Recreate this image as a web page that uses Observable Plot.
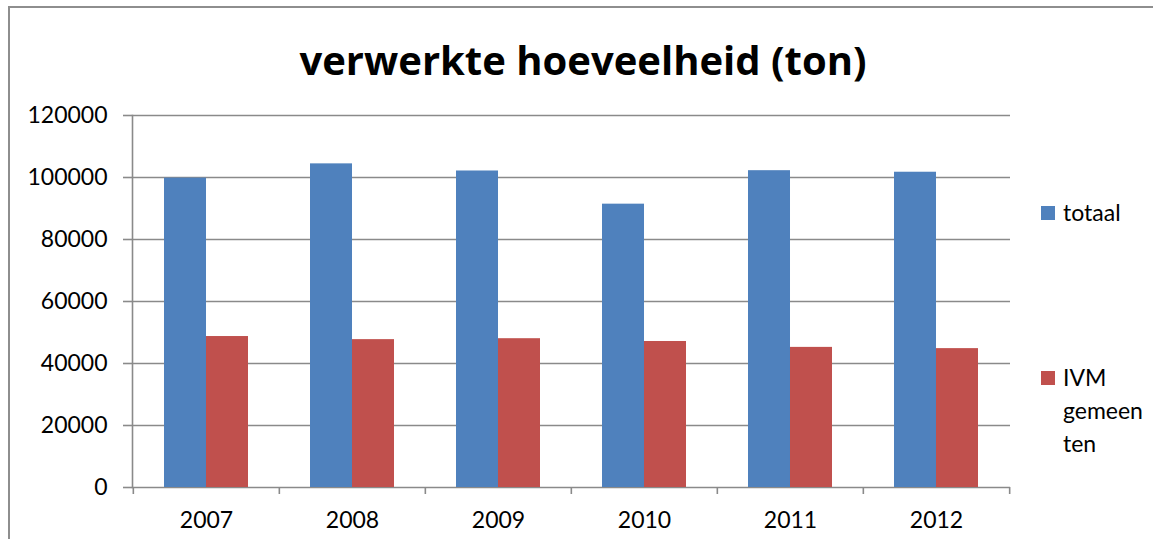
<!DOCTYPE html>
<html>
<head>
<meta charset="utf-8">
<script src="https://cdn.jsdelivr.net/npm/d3@7"></script>
<script src="https://cdn.jsdelivr.net/npm/@observablehq/plot@0.6"></script>
<style>
  html, body { margin: 0; padding: 0; background: #fff; }
  #wrap { position: relative; width: 1153px; height: 539px; overflow: hidden; font-family: Lato, "Open Sans", sans-serif; }
  #border { position: absolute; left: 8px; top: 6px; width: 1200px; height: 600px; border-left: 2px solid #8e8e8e; border-top: 2px solid #8e8e8e; box-sizing: border-box; }
  #title { position: absolute; left: 0; width: 1166px; top: 34px; text-align: center; font-family: "Open Sans", Lato, sans-serif; font-weight: bold; font-size: 40px; line-height: 52px; color: #000; }
  #chart { position: absolute; left: 0; top: 0; }
  .leg { position: absolute; font-size: 23px; line-height: 33px; color: #000; }
  .sw { position: absolute; width: 14px; height: 14px; }
</style>
</head>
<body>
<div id="wrap">
  <div id="border"></div>
  <div id="chart"></div>
  <div id="title">verwerkte hoeveelheid (ton)</div>
  <div id="legend"></div>
</div>
<script>
const years = ["2007", "2008", "2009", "2010", "2011", "2012"];
const totaal = [99800, 104400, 102100, 91400, 102200, 101700];
const ivm = [48700, 47700, 48000, 47100, 45200, 44800];
const yTicks = [0, 20000, 40000, 60000, 80000, 100000, 120000];
const seriesNames = ["totaal", "IVM gemeen ten"];
const seriesColors = ["#4F81BD", "#C0504D"];

const dataTot = years.map((y, i) => ({year: y, value: totaal[i]}));
const dataIvm = years.map((y, i) => ({year: y, value: ivm[i]}));

const W = 1153, H = 539;
const mL = 132, mR = 143, mT = 115, mB = 52;
const step = (W - mL - mR) / years.length;
const pad = 0.426;
const bw = step * (1 - pad);
const gridColor = "#8a8a8a";

const chart = Plot.plot({
  width: W, height: H,
  marginLeft: mL, marginRight: mR, marginTop: mT, marginBottom: mB,
  style: {fontFamily: "Lato, 'Open Sans', sans-serif", fontSize: "23px", color: "#000", background: "transparent", overflow: "visible"},
  x: {domain: years, paddingInner: pad, paddingOuter: pad / 2, label: null},
  y: {domain: [0, 120000], label: null},
  marks: [
    Plot.ruleY(yTicks, {stroke: gridColor, strokeWidth: 1.6}),
    Plot.frame({anchor: "left", stroke: gridColor, strokeWidth: 1.6}),
    Plot.barY(dataTot, {x: "year", y: "value", fill: seriesColors[0], insetRight: bw / 2}),
    Plot.barY(dataIvm, {x: "year", y: "value", fill: seriesColors[1], insetLeft: bw / 2}),
    Plot.axisY({ticks: yTicks, tickSize: 9, tickPadding: 16, tickFormat: d => String(d), stroke: gridColor, strokeWidth: 1.6, fill: "#000", label: null}),
    Plot.axisX({ticks: years, tickSize: 0, tickPadding: 24, fill: "#000", label: null}),
    Plot.axisX({ticks: years, tickSize: 7, tickFormat: () => "", dx: -step / 2, stroke: gridColor, strokeWidth: 1.6, label: null}),
    Plot.axisX({ticks: [years[years.length - 1]], tickSize: 7, tickFormat: () => "", dx: step / 2, stroke: gridColor, strokeWidth: 1.6, label: null})
  ]
});
document.getElementById("chart").appendChild(chart);

const leg = document.getElementById("legend");
const legPos = [{sy: 206, ty: 196}, {sy: 371, ty: 361}];
seriesNames.forEach((name, i) => {
  const sw = document.createElement("div");
  sw.className = "sw";
  sw.style.left = "1041px";
  sw.style.top = legPos[i].sy + "px";
  sw.style.background = seriesColors[i];
  leg.appendChild(sw);
  const t = document.createElement("div");
  t.className = "leg";
  t.style.left = "1063px";
  t.style.top = legPos[i].ty + "px";
  t.innerHTML = i === 0 ? name : "IVM<br>gemeen<br>ten";
  leg.appendChild(t);
});
</script>
</body>
</html>
